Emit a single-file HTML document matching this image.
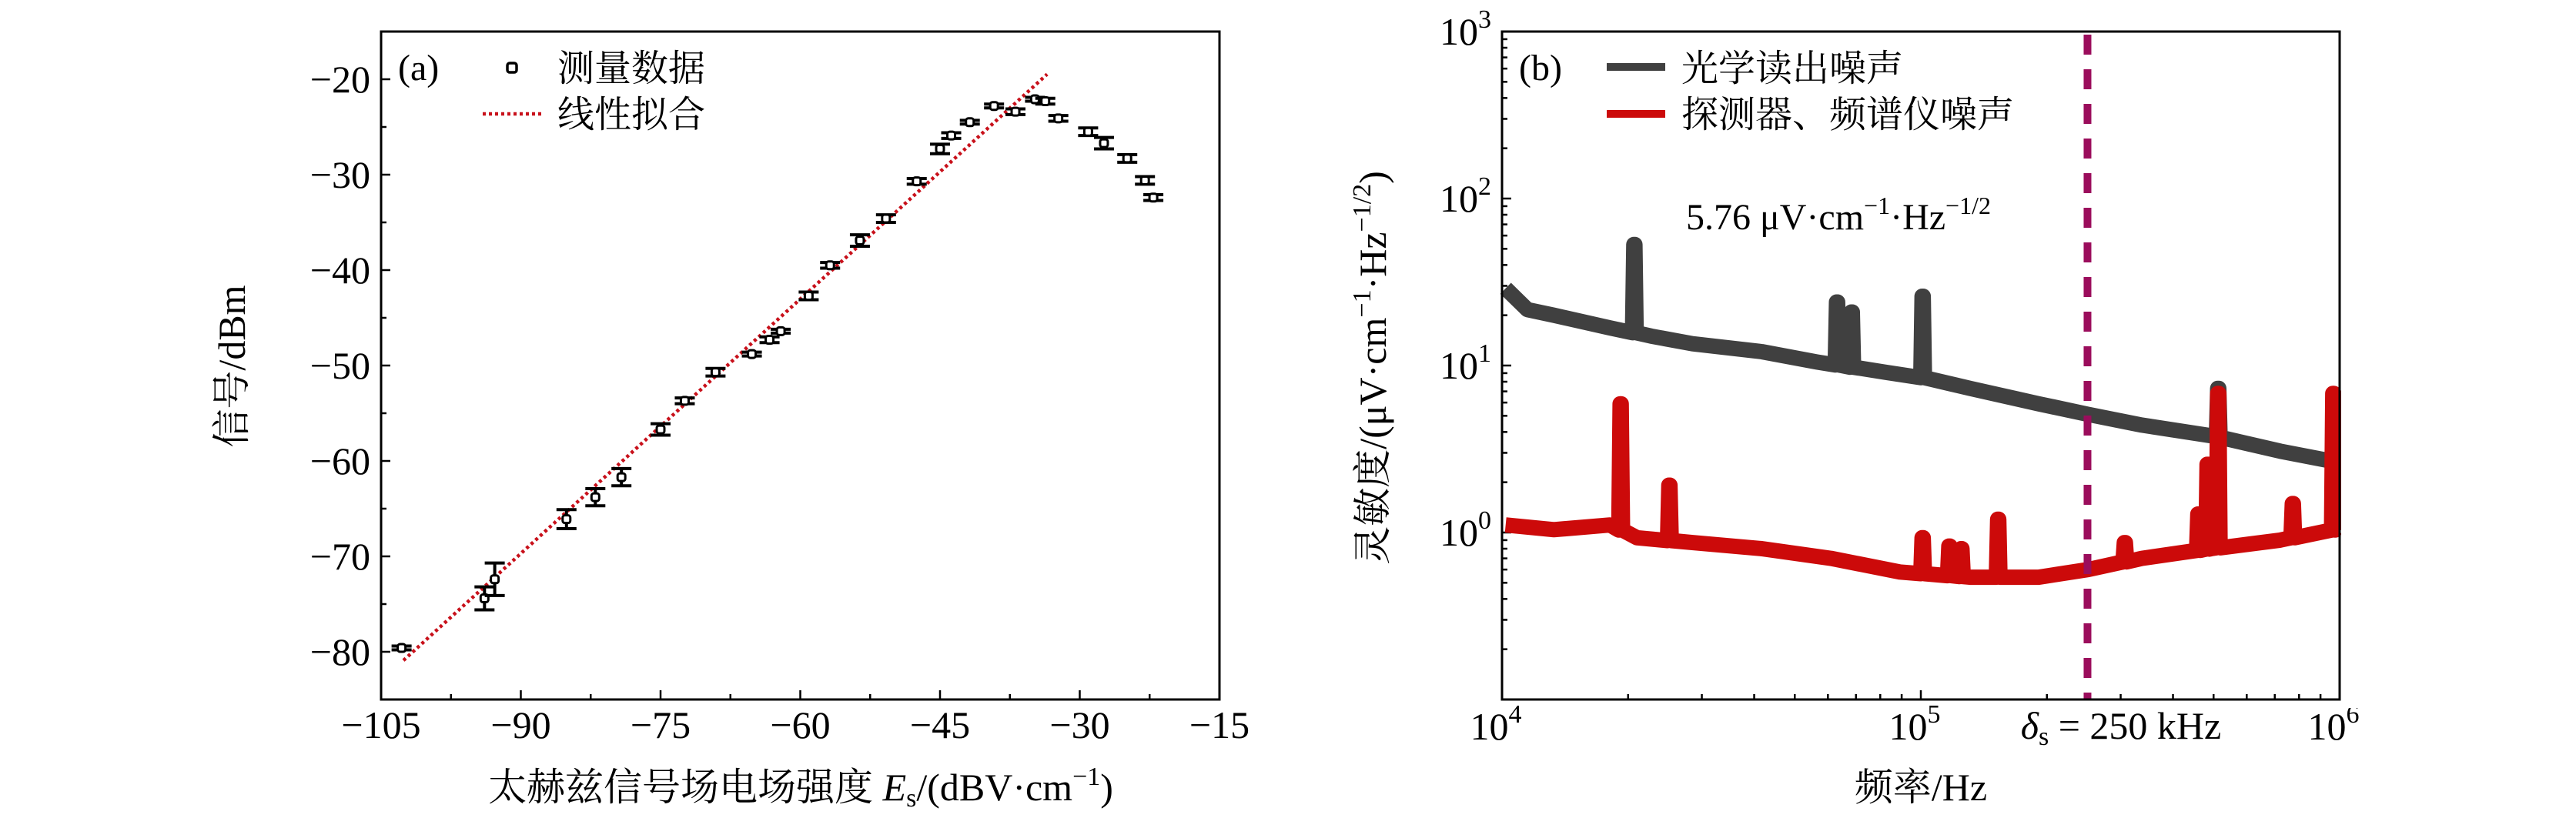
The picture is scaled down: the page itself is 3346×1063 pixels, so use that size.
<!DOCTYPE html>
<html><head><meta charset="utf-8">
<style>
html,body{margin:0;padding:0;background:#fff;overflow:hidden;}
svg{display:block;}
text{font-family:"Liberation Serif","Noto Serif CJK SC","Noto Sans CJK SC",serif;fill:#000;}
</style></head>
<body>
<svg id="fig" width="3346" height="1063" viewBox="0 0 3346 1063" xmlns="http://www.w3.org/2000/svg">
<g id="pa"></g>
<g id="pb"></g>
</svg>
<script>
// ---------- Panel (a) data ----------
const aX = [-102.8,-93.9,-92.8,-85.1,-82.0,-79.2,-75.0,-72.4,-69.1,-65.2,-63.3,-62.1,-59.1,-56.8,-53.6,-50.8,-47.5,-45.0,-43.8,-41.8,-39.2,-36.9,-34.8,-33.7,-32.3,-29.1,-27.4,-24.9,-23.0,-22.1];
const aY = [-79.6,-74.4,-72.4,-66.1,-63.8,-61.7,-56.7,-53.7,-50.7,-48.8,-47.3,-46.4,-42.7,-39.5,-36.9,-34.6,-30.7,-27.3,-25.9,-24.5,-22.8,-23.4,-22.1,-22.3,-24.1,-25.5,-26.7,-28.3,-30.6,-32.4];
const aErr = [0.2,1.2,1.7,1.0,0.9,0.9,0.6,0.3,0.4,0.2,0.3,0.2,0.4,0.3,0.6,0.4,0.3,0.5,0.3,0.2,0.2,0.3,0.2,0.3,0.3,0.4,0.6,0.4,0.4,0.3];
const fitSlope = 0.889, fitIntercept = 10.31; // y = slope*x + intercept
const fitRange = [-102.6, -33.5];
const aXTicks = [-105,-90,-75,-60,-45,-30,-15];
const aYTicks = [-20,-30,-40,-50,-60,-70,-80];

// ---------- Panel (b) data ----------
const grayF = [1.02e4,1.15e4,1.33e4,1.81e4,2.27e4,2.85e4,4.17e4,5.65e4,8.26e4,1.0e5,1.31e5,1.91e5,2.51e5,3.37e5,4.93e5,7.21e5,9.77e5,1.0e6];
const grayV = [29,21.6,20,16.8,15,13.5,12.1,10.5,9.1,8.5,7.3,5.9,5.1,4.4,3.8,3.07,2.65,2.6];
const grayPeakF = [2.07e4,6.31e4,6.84e4,1.01e5,5.13e5];
const grayPeakV = [53,24,20.9,26,7.3];
const redF = [1.02e4,1.33e4,1.81e4,2.10e4,2.85e4,4.17e4,6.10e4,8.91e4,1.31e5,1.91e5,2.51e5,3.37e5,4.93e5,7.21e5,9.77e5,1.0e6];
const redV = [1.11,1.04,1.11,0.93,0.87,0.80,0.70,0.58,0.54,0.54,0.60,0.70,0.80,0.90,1.04,1.05];
const redPeakF = [1.92e4,2.51e4,1.01e5,1.17e5,1.25e5,1.53e5,3.07e5,4.60e5,4.84e5,5.13e5,7.73e5,9.66e5];
const redPeakV = [5.9,1.92,0.93,0.83,0.80,1.2,0.87,1.29,2.56,6.8,1.49,6.8];
const markerF = 2.5e5;
const bXTicks = [4,5,6];
const bYTicks = [0,1,2,3];

const NS='http://www.w3.org/2000/svg';
function el(tag, attrs, parent){const e=document.createElementNS(NS,tag);for(const k in attrs)e.setAttribute(k,attrs[k]);parent.appendChild(e);return e;}

// ===== Panel a =====
const A = {l:495,r:1584,t:41,b:909,x0:-105,x1:-15,y0:-85,y1:-15};
const ax = v => A.l + (v-A.x0)/(A.x1-A.x0)*(A.r-A.l);
const ay = v => A.b - (v-A.y0)/(A.y1-A.y0)*(A.b-A.t);
(function(){
const pa = document.getElementById('pa');
for(let v=-105; v<=-15; v+=7.5){
  const major = aXTicks.includes(v);
  const t = el('line',{x1:ax(v),x2:ax(v),y1:A.b,y2:A.b-(major?12:7),stroke:'#000','stroke-width':2.5},pa);
  
  
}
for(let v=-85; v<=-15; v+=5){
  const major = aYTicks.includes(v);
  const t = el('line',{x1:A.l,x2:A.l+(major?12:7),y1:ay(v),y2:ay(v),stroke:'#000','stroke-width':2.5},pa);
  
  
}
aXTicks.forEach(v=>{
  const t = el('text',{x:ax(v),y:A.b+50,'text-anchor':'middle','font-size':50},pa);
  t.textContent = '\u2212'+Math.abs(v);
  
  
});
aYTicks.forEach(v=>{
  const t = el('text',{x:A.l-14,y:ay(v)+17,'text-anchor':'end','font-size':50},pa);
  t.textContent = '\u2212'+Math.abs(v);
  
  
});
const fit = el('line',{x1:ax(fitRange[0]),y1:ay(fitSlope*fitRange[0]+fitIntercept),x2:ax(fitRange[1]),y2:ay(fitSlope*fitRange[1]+fitIntercept),stroke:'#c8101a','stroke-width':4.5,'stroke-dasharray':'4 4'},pa);


aX.forEach((x,i)=>{
  const g = el('g',{},pa);
  
  
  const cx=ax(x), yt=ay(aY[i]+aErr[i]), yb=ay(aY[i]-aErr[i]);
  el('line',{x1:cx,x2:cx,y1:yt,y2:yb,stroke:'#000','stroke-width':4},g);
  el('line',{x1:cx-13,x2:cx+13,y1:yt,y2:yt,stroke:'#000','stroke-width':4},g);
  el('line',{x1:cx-13,x2:cx+13,y1:yb,y2:yb,stroke:'#000','stroke-width':4},g);
  el('rect',{x:cx-5,y:ay(aY[i])-5,width:10,height:10,rx:3,fill:'#fff',stroke:'#000','stroke-width':3},g);
});
const f=el('rect',{x:A.l,y:A.t,width:A.r-A.l,height:A.b-A.t,fill:'none',stroke:'#000','stroke-width':3},pa);


pa.insertAdjacentHTML('beforeend',
 '<text x="517" y="104" font-size="48">(a)</text>'+
 '<g>'+
 '<rect x="659" y="82" width="12" height="12" rx="3" fill="#fff" stroke="#000" stroke-width="3.5"/>'+
 '<text x="724" y="105" font-size="48">测量数据</text>'+
 '<line x1="627" x2="705" y1="148" y2="148" stroke="#c8101a" stroke-width="4.5" stroke-dasharray="4 4"/>'+
 '<text x="724" y="165" font-size="48">线性拟合</text></g>'+
 '<text transform="translate(318,476) rotate(-90)" text-anchor="middle" font-size="50">信号/dBm</text>'+
 '<text x="1040" y="1040" text-anchor="middle" font-size="50">太赫兹信号场电场强度 <tspan font-style="italic">E</tspan><tspan font-size="34" dy="8">s</tspan><tspan dy="-8">/(dBV·cm</tspan><tspan font-size="34" dy="-20">−1</tspan><tspan dy="20">)</tspan></text>');
})();

// ===== Panel b =====
const B = {l:1951,r:3039,t:41,b:909,lx0:4,lx1:6,ly0:-1,ly1:3};
const bx = f => B.l + (Math.log10(f)-B.lx0)/(B.lx1-B.lx0)*(B.r-B.l);
const by = v => B.b - (Math.log10(v)-B.ly0)/(B.ly1-B.ly0)*(B.b-B.t);
(function(){
const pb=document.getElementById('pb');
for(let d=4; d<=6; d++){
  for(let m=1; m<=9; m++){
    const f=m*Math.pow(10,d); if(f>1e6) break;
    const t=el('line',{x1:bx(f),x2:bx(f),y1:B.b,y2:B.b-(m===1?12:7),stroke:'#000','stroke-width':2.5},pb);
    
    
  }
}
for(let d=-1; d<=3; d++){
  for(let m=1; m<=9; m++){
    const v=m*Math.pow(10,d); if(v>1000) break;
    const t=el('line',{x1:B.l,x2:B.l+(m===1?12:7),y1:by(v),y2:by(v),stroke:'#000','stroke-width':2.5},pb);
    
    
  }
}
bXTicks.forEach(d=>{
  const t=el('text',{x:bx(Math.pow(10,d))-8,y:B.b+52,'text-anchor':'middle','font-size':50},pb);
  t.innerHTML='10<tspan font-size="34" dy="-22">'+d+'</tspan>';
  
  
});
bYTicks.forEach(d=>{
  const t=el('text',{x:B.l-14,y:by(Math.pow(10,d))+17,'text-anchor':'end','font-size':50},pb);
  t.innerHTML='10<tspan font-size="34" dy="-22">'+d+'</tspan>';
  
  
});
function curve(F,V,PF,PV){
  const pts=F.map((f,i)=>[f,V[i]]);
  PF.forEach((pf,i)=>{
    let j=0; while(j<F.length-2 && F[j+1]<pf) j++;
    const t=(Math.log10(pf)-Math.log10(F[j]))/(Math.log10(F[j+1])-Math.log10(F[j]));
    const base=Math.pow(10,Math.log10(V[j])+t*(Math.log10(V[j+1])-Math.log10(V[j])));
    pts.push([pf*0.99,base],[pf*0.997,PV[i]],[pf*1.003,PV[i]],[pf*1.01,base]);
  });
  pts.sort((a,b)=>a[0]-b[0]);
  return pts.map((p,i)=>(i?'L':'M')+bx(Math.min(p[0],1e6)).toFixed(1)+','+by(p[1]).toFixed(1)).join(' ');
}
const g=el('path',{d:curve(grayF,grayV,grayPeakF,grayPeakV),fill:'none',stroke:'#404040','stroke-width':20,'stroke-linejoin':'round'},pb);


const r=el('path',{d:curve(redF,redV,redPeakF,redPeakV),fill:'none',stroke:'#cc0a0a','stroke-width':20,'stroke-linejoin':'round'},pb);


const m=el('line',{x1:bx(markerF),x2:bx(markerF),y1:B.t+4,y2:B.b,stroke:'#9b0d5c','stroke-width':10,'stroke-dasharray':'26 19'},pb);


pb.insertAdjacentHTML('beforeend',
 '<rect x="3041" y="30" width="100" height="890" fill="#fff"/>');
const fr=el('rect',{x:B.l,y:B.t,width:B.r-B.l,height:B.b-B.t,fill:'none',stroke:'#000','stroke-width':3},pb);


pb.insertAdjacentHTML('beforeend',
 '<text x="1973" y="104" font-size="48">(b)</text>'+
 '<g>'+
 '<line x1="2087" x2="2163" y1="87" y2="87" stroke="#404040" stroke-width="10"/>'+
 '<text x="2184" y="105" font-size="48">光学读出噪声</text>'+
 '<line x1="2087" x2="2163" y1="148" y2="148" stroke="#cc0a0a" stroke-width="10"/>'+
 '<text x="2184" y="165" font-size="48">探测器、频谱仪噪声</text></g>'+
 '<text x="2190" y="298" font-size="48">5.76 μV·cm<tspan font-size="32" dy="-20">−1</tspan><tspan dy="20">·Hz</tspan><tspan font-size="32" dy="-20">−1/2</tspan></text>'+
 '<text x="2755" y="960" text-anchor="middle" font-size="50"><tspan font-style="italic">δ</tspan><tspan font-size="34" dy="8">s</tspan><tspan dy="-8"> = 250  kHz</tspan></text>'+
 '<text x="2495" y="1040" text-anchor="middle" font-size="50">频率/Hz</text>'+
 '<text transform="translate(1800,478) rotate(-90)" text-anchor="middle" font-size="50">灵敏度/(μV·cm<tspan font-size="34" dy="-20">−1</tspan><tspan dy="20">·Hz</tspan><tspan font-size="34" dy="-20">−1/2</tspan><tspan dy="20">)</tspan></text>');
})();
</script>
</body></html>
